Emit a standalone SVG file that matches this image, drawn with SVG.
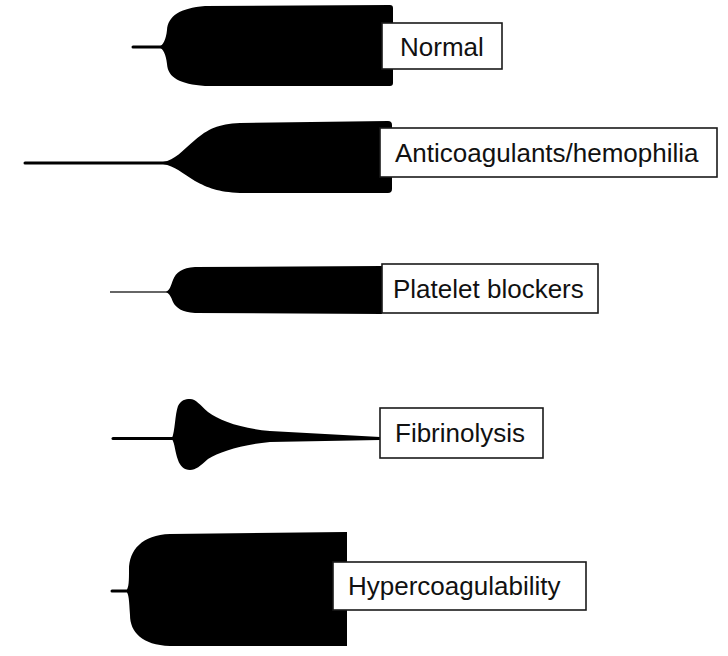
<svg xmlns="http://www.w3.org/2000/svg" width="728" height="656" viewBox="0 0 728 656">
<style>
.clot{fill:#000;stroke:none}
.tail{stroke:#000;stroke-width:3;fill:none;stroke-linecap:round}
.box{fill:#fff;stroke:#1a1a1a;stroke-width:1.6}
.lbl{font-family:"Liberation Sans",Arial,sans-serif;font-size:26px;fill:#111}
</style>
<rect width="728" height="656" fill="#fff"/>
<g id="normal">
<line class="tail" x1="133" y1="47" x2="162" y2="47"/>
<path class="clot" d="M159,47 C163,45 166,40 167,30 C168,16 180,8 205,6 L390,5 Q393,5 393,8 L393,83 Q393,86 390,86 L205,86 C180,84 168,78 167,64 C166,54 163,49 159,47 Z"/>
<rect class="box" x="382" y="23" width="120" height="46"/>
<text class="lbl" x="400" y="56">Normal</text>
</g>
<g id="anticoagulants">
<line class="tail" x1="25" y1="163" x2="168" y2="163"/>
<path class="clot" d="M163,162 C175,160 182,151 195,140 C208,129 218,124 240,123 L388,121 Q392,121 392,125 L392,189 Q392,193 388,193 L240,193 C218,192 208,188 195,181 C182,173 175,166 163,164 Z"/>
<rect class="box" x="380" y="128" width="337" height="49"/>
<text class="lbl" x="395" y="162">Anticoagulants/hemophilia</text>
</g>
<g id="platelet">
<line x1="110" y1="292" x2="168" y2="292" stroke="#333" stroke-width="1.6"/>
<path class="clot" d="M166,292 C170,290 171,285 173,280 C176,272 182,268 195,267 L382,266 L382,314 L195,313 C182,312 176,308 173,302 C171,297 170,294 166,292 Z"/>
<rect class="box" x="382" y="264" width="216" height="49"/>
<text class="lbl" x="393" y="298">Platelet blockers</text>
</g>
<g id="fibrinolysis">
<line class="tail" x1="113" y1="438.5" x2="174" y2="438.5"/>
<path class="clot" d="M172,438 C175,432 175,414 178,406 C181,400 185,399 190,399 C196,399 200,405 208,412 C220,421 240,428 270,431 L380,437 L380,440 L270,442 C240,445 220,452 208,459 C200,466 196,470 190,470 C184,470 180,466 178,460 C175,452 175,444 172,439 Z"/>
<rect class="box" x="380" y="408" width="163" height="50"/>
<text class="lbl" x="395" y="442">Fibrinolysis</text>
</g>
<g id="hypercoagulability">
<line class="tail" x1="112" y1="591" x2="129" y2="591"/>
<path class="clot" d="M126,591 C129,588 129,580 129,570 C129,550 142,535 170,534 L345,532 L347,532 L347,646 L170,646 C142,645 130,632 130,615 C129,600 129,594 126,591 Z"/>
<rect class="box" x="333" y="562" width="253" height="48"/>
<text class="lbl" x="348" y="595">Hypercoagulability</text>
</g>
</svg>
